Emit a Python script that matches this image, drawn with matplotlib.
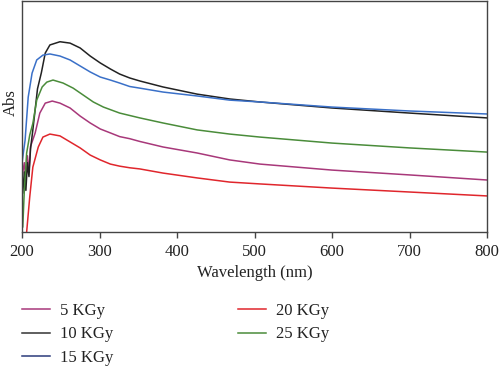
import numpy as np
import matplotlib.pyplot as plt

plt.rcParams['font.family'] = ['Liberation Serif', 'DejaVu Serif']

labels = ['5 KGy', '10 KGy', '15 KGy', '20 KGy', '25 KGy']
colors = ['#a8387a', '#222222', '#3a70c8', '#e0262c', '#4a8c3a']
legend_colors = ['#a8387a', '#333333', '#2b3a7a', '#e0262c', '#4a8c3a']

wl_5 = [200, 203, 205, 207, 209, 211, 217, 223, 230, 239, 249, 262, 275, 288, 301, 314, 326, 339, 352,
        382, 426, 468, 507, 600, 700, 800]
abs_5 = [0.238, 0.30, 0.22, 0.33, 0.26, 0.37, 0.429, 0.515, 0.558, 0.567, 0.558, 0.537, 0.502, 0.472, 0.446,
         0.429, 0.413, 0.404, 0.392, 0.368, 0.342, 0.312, 0.294, 0.268, 0.247, 0.225]

wl_10 = [201, 203, 205, 207, 209, 211, 214, 220, 225, 230, 236, 249, 262, 275, 288, 301, 314, 326, 339, 352,
         382, 426, 468, 507, 600, 700, 800]
abs_10 = [0.169, 0.26, 0.18, 0.30, 0.24, 0.36, 0.442, 0.62, 0.69, 0.775, 0.810, 0.824, 0.818, 0.797, 0.762,
          0.732, 0.706, 0.684, 0.667, 0.654, 0.628, 0.597, 0.576, 0.563, 0.537, 0.515, 0.494]

wl_15 = [200, 204, 208, 213, 219, 227, 236, 249, 262, 275, 288, 301, 314, 326, 339, 352,
         382, 426, 468, 507, 600, 700, 800]
abs_15 = [0.299, 0.398, 0.584, 0.688, 0.745, 0.766, 0.771, 0.762, 0.745, 0.719, 0.693, 0.671, 0.658, 0.645,
          0.630, 0.623, 0.606, 0.589, 0.571, 0.563, 0.541, 0.524, 0.511]

wl_20 = [206, 210, 214, 221, 227, 236, 249, 262, 275, 288, 301, 314, 326, 339, 352,
         382, 426, 468, 507, 600, 700, 800]
abs_20 = [0.0, 0.152, 0.281, 0.368, 0.411, 0.424, 0.416, 0.390, 0.364, 0.333, 0.312, 0.294, 0.285, 0.278,
          0.273, 0.255, 0.234, 0.216, 0.208, 0.190, 0.173, 0.156]

wl_25 = [201, 203, 206, 210, 214, 219, 226, 232, 240, 253, 266, 279, 292, 305, 326, 352,
         382, 426, 468, 507, 600, 700, 800]
abs_25 = [0.022, 0.18, 0.342, 0.42, 0.47, 0.571, 0.628, 0.649, 0.658, 0.645, 0.623, 0.593, 0.563, 0.541,
          0.515, 0.494, 0.472, 0.442, 0.424, 0.411, 0.385, 0.364, 0.346]

series = [(wl_5, abs_5), (wl_10, abs_10), (wl_15, abs_15), (wl_20, abs_20), (wl_25, abs_25)]

fig = plt.figure(figsize=(5, 3.67), dpi=100)
ax = fig.add_axes([0.044, 0.368, 0.930, 0.629])

for (x, y), c, lab in zip(series, colors, labels):
    ax.plot(x, y, color=c, lw=1.1, label=lab)

ax.set_xlim(200, 800)
ax.set_ylim(0, 1)
ax.set_xticks(range(200, 801, 100))
ax.set_yticks([])
ax.tick_params(axis='x', direction='out', length=4, width=1, color='#444444',
               labelsize=12, pad=5, labelcolor='#222222')
for s in ax.spines.values():
    s.set_color('#444444')
    s.set_linewidth(1)
ax.set_xlabel('Wavelength (nm)', fontsize=12, labelpad=3, color='#222222')
ax.set_ylabel('Abs', fontsize=12, color='#222222')
ax.yaxis.set_label_coords(-0.006, 0.56)

leg = fig.legend(loc='upper left', bbox_to_anchor=(0.03, 0.192), ncol=2,
                 frameon=False, fontsize=12, handlelength=1.68,
                 handletextpad=0.6, columnspacing=7.5, labelspacing=0.43,
                 borderaxespad=0, labelcolor='#222222')
for line, c in zip(leg.get_lines(), legend_colors):
    line.set_color(c)

fig.savefig('out.png', dpi=100)
